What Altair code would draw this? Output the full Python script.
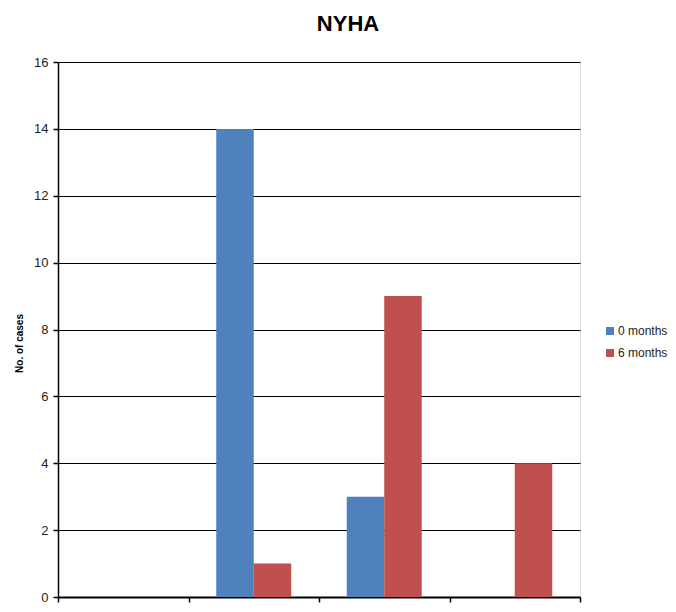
import altair as alt
import pandas as pd

categories = ["I", "II", "III", "IV"]
series = ["0 months", "6 months"]
values_0 = [0, 14, 3, 0]
values_6 = [0, 1, 9, 4]

rows = []
for c, a, b in zip(categories, values_0, values_6):
    rows.append({"cat": c, "series": series[0], "value": a})
    rows.append({"cat": c, "series": series[1], "value": b})
df = pd.DataFrame(rows)

chart = alt.Chart(df).mark_bar(strokeWidth=0).encode(
    x=alt.X("cat:N", sort=categories,
            scale=alt.Scale(paddingInner=0, paddingOuter=0),
            axis=alt.Axis(title=None, labels=False, tickBand="extent", ticks=True,
                          tickSize=5, tickColor="black", tickWidth=1.5,
                          domainColor="black", domainWidth=2, grid=False)),
    xOffset=alt.XOffset("series:N", sort=series,
                        scale=alt.Scale(paddingInner=0, paddingOuter=0.74)),
    y=alt.Y("value:Q", scale=alt.Scale(domain=[0, 16]),
            axis=alt.Axis(title="No. of cases", values=list(range(0, 17, 2)),
                          tickSize=5, tickColor="black", tickWidth=1.5,
                          domainColor="black", domainWidth=1.5,
                          gridColor="black", gridWidth=1.2, grid=True,
                          labelFont="Liberation Sans", labelFontSize=13,
                          labelColor="#222222", labelPadding=5,
                          titleFont="Liberation Sans", titleFontSize=10,
                          titleFontWeight="bold", titleColor="black",
                          titleX=-39, titleY=281, titleAngle=-90,
                          titleBaseline="middle", titleAlign="center")),
    color=alt.Color("series:N", sort=series,
                    scale=alt.Scale(domain=series, range=["#4F81BD", "#C0504D"]),
                    legend=alt.Legend(title=None, orient="none", legendX=546, legendY=263,
                                      symbolType="square", symbolSize=64,
                                      symbolStrokeWidth=0, rowPadding=10,
                                      labelFont="Liberation Sans", labelFontSize=12,
                                      labelColor="#222222", labelOffset=2)),
).properties(
    width=522,
    height=535,
    title=alt.TitleParams("NYHA", font="Liberation Sans", fontSize=22, fontWeight="bold",
                          color="black", anchor="middle", dx=29, offset=20),
    autosize=alt.AutoSizeParams(type="none"),
    padding={"left": 50, "top": 54, "right": 88, "bottom": 7},
).configure_view(stroke=None).configure(background="white")

chart.save("out.html", embed_options={"renderer": "svg", "actions": False})
